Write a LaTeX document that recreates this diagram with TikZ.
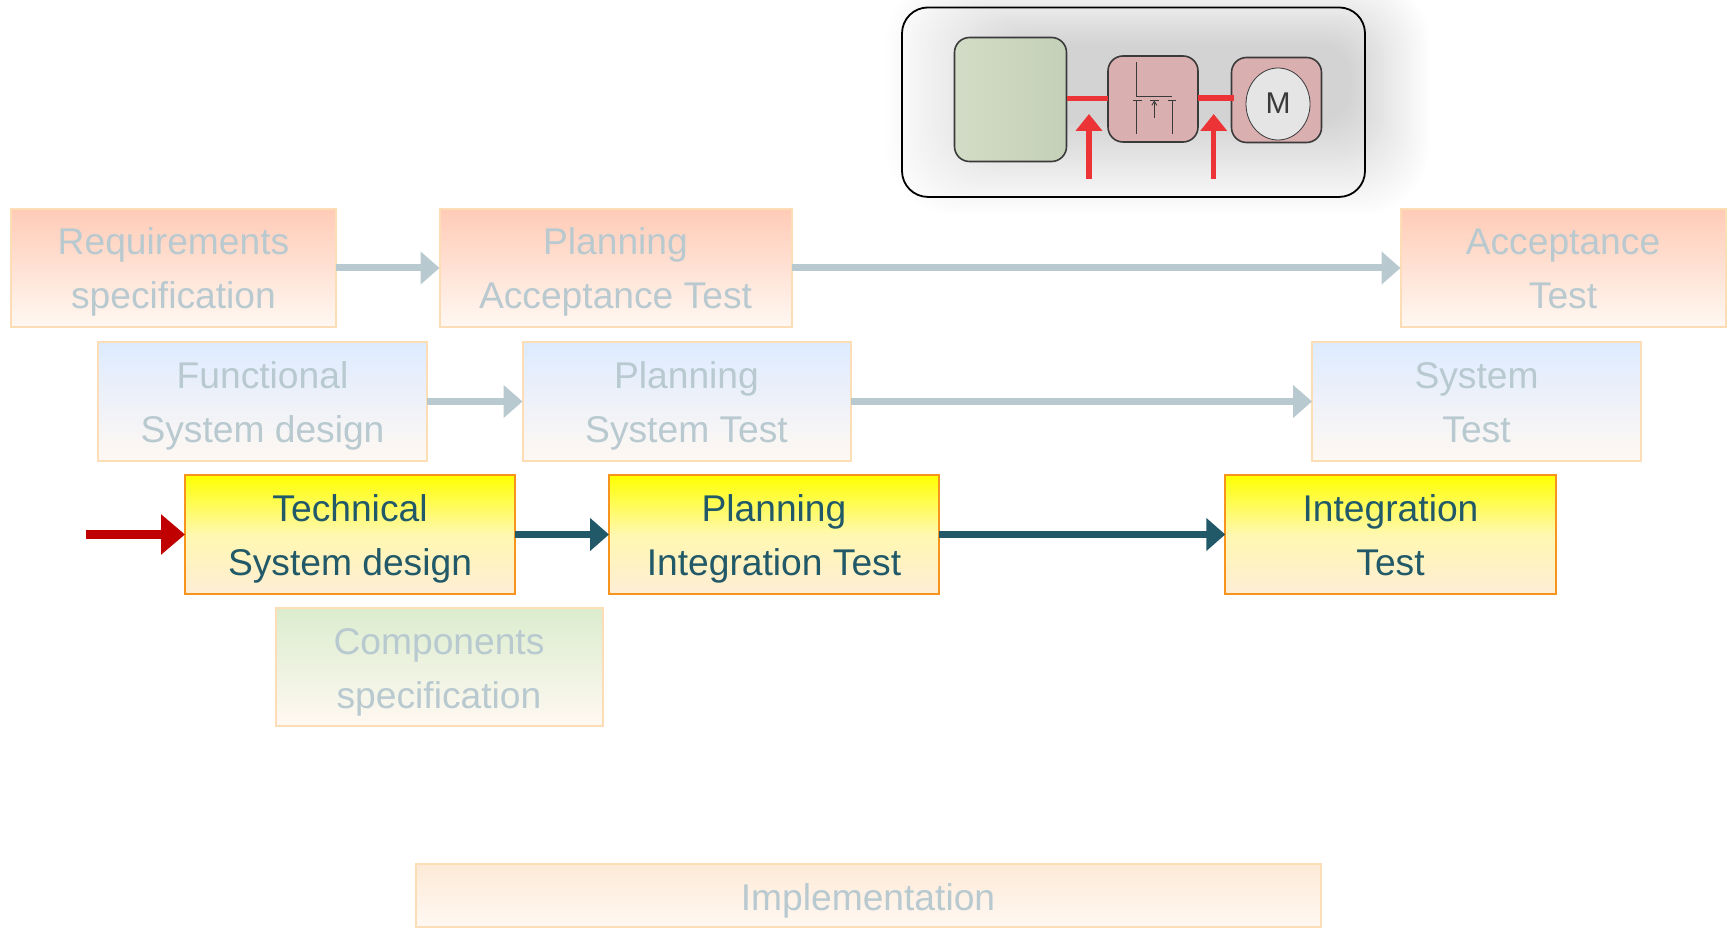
\documentclass[tikz,border=0pt]{standalone}
\usepackage{fontspec}
\setmainfont{Liberation Sans}
\usetikzlibrary{arrows.meta,shapes.geometric}
\definecolor{fadetext}{HTML}{B8C9D0}
\definecolor{darktext}{HTML}{215968}
\definecolor{fadeedge}{HTML}{FDDDB6}
\definecolor{brightedge}{HTML}{F7941D}
\definecolor{panred}{HTML}{EC3335}
\definecolor{inred}{HTML}{C00000}
\definecolor{boxpink}{HTML}{DAAFB0}
\definecolor{boxedge}{HTML}{3A3A3A}
\definecolor{redtop}{HTML}{FFCBB6}
\definecolor{palebottom}{HTML}{FFF8F2}
\definecolor{bluetop}{HTML}{DDEBFF}
\definecolor{greentop}{HTML}{DBEDCE}
\definecolor{impltop}{HTML}{FDEAD7}
\definecolor{implbottom}{HTML}{FFF8F2}
\definecolor{hottop}{HTML}{FFFF00}
\definecolor{hotmid}{HTML}{FFF8B0}
\definecolor{hotbottom}{HTML}{FEEDD6}
\definecolor{srcleft}{HTML}{D3DCC6}
\definecolor{srcright}{HTML}{C4D0B8}
\newcommand\tl{\rule[-8pt]{0pt}{44pt}}
\newcommand\tlone{\rule[-8pt]{0pt}{45pt}}
\tikzset{
  x=1pt,y=-1pt,
  vbox/.style={rectangle,outer sep=0pt,inner sep=0pt,line width=2pt,align=center,
    font=\fontsize{37.2}{54}\selectfont},
  fadebox/.style={vbox,draw=fadeedge,text=fadetext},
  redbox/.style={fadebox,top color=redtop,bottom color=palebottom},
  bluebox/.style={fadebox,top color=bluetop,bottom color=palebottom},
  greenbox/.style={fadebox,top color=greentop,bottom color=palebottom},
  implbox/.style={fadebox,top color=impltop,bottom color=implbottom},
  hotbox/.style={vbox,draw=brightedge,text=darktext,top color=hottop,bottom color=hotbottom,middle color=hotmid},
  fadearrow/.style={draw=fadetext,line width=7pt,-{Triangle[length=19pt,width=32pt]}},
  hotarrow/.style={draw=darktext,line width=7pt,-{Triangle[length=19pt,width=32pt]}},
  inarrow/.style={draw=inred,line width=8.5pt,-{Triangle[length=24pt,width=39pt]}},
  redline/.style={draw=panred,line width=5.5pt},
  uparrow/.style={draw=panred,line width=5.5pt,-{Triangle[length=17pt,width=26pt]}},
  block/.style={rectangle,rounded corners=15pt,draw=boxedge,line width=1.6pt,outer sep=0pt,inner sep=0pt},
  sym/.style={draw=boxedge,line width=0.9pt}
}
\begin{document}
\begin{tikzpicture}
\useasboundingbox (0,0) rectangle (1729,927.5);
% soft glow behind the panel
\begin{scope}
\clip (0,0) rectangle (1729,927.5);
\foreach \i in {0,...,42}{
  \pgfmathsetmacro\lft{885+\i*(1020-885)/42}
  \pgfmathsetmacro\rgt{1430-\i*(1430-1350)/42}
  \pgfmathsetmacro\tp{-25+\i*(45+25)/42}
  \pgfmathsetmacro\bt{215-\i*(215-120)/42}
  \pgfmathsetmacro\rad{70-\i*40/42}
  \pgfmathsetmacro\shadeval{0.4*(\i+1)}
  \fill[black!\shadeval,rounded corners=\rad pt] (\lft,\tp) rectangle (\rgt,\bt);
}
\end{scope}
% panel
\node[rectangle,draw=black,line width=1.8pt,rounded corners=26pt,minimum width=463pt,minimum height=189.5pt,outer sep=0pt] (panel) at (1133.5,102.2) {};
\node[block,left color=srcleft,right color=srcright,minimum width=112pt,minimum height=124pt] (source) at (1010.5,99.5) {};
\node[block,fill=boxpink,minimum width=90pt,minimum height=86pt] (inverter) at (1153,99) {};
\node[block,fill=boxpink,minimum width=90pt,minimum height=85pt] (motorbox) at (1276.5,100) {};
\node[ellipse,draw=boxedge,line width=0.8pt,fill=black!10,minimum width=64pt,minimum height=72pt,inner sep=0pt,outer sep=0pt,font=\fontsize{30}{32}\selectfont,text=boxedge] (motor) at (1278,104) {\raisebox{1pt}{M}};
\draw[redline] (source.east |- 0,98.7) -- (inverter.west |- 0,98.7);
\draw[redline,shorten >=-2pt] (inverter.east |- 0,98) -- (motorbox.west |- 0,98);
\coordinate (up1a) at (1089,179);
\coordinate (up1b) at (1089,114);
\coordinate (up2a) at (1213.7,179);
\coordinate (up2b) at (1213.7,114);
\draw[uparrow] (up1a) -- (up1b);
\draw[uparrow] (up2a) -- (up2b);
% transistor symbol
\draw[sym] (1136.7,62) -- (1136.7,96) -- (1172,96);
\draw[sym] (1133,100.3) -- (1142,100.3) (1136.7,100.3) -- (1136.7,133.7);
\draw[sym] (1150,100.3) -- (1159,100.3);
\draw[sym,-{Straight Barb[length=4pt,width=5pt]}] (1154.3,118) -- (1154.3,100.5);
\draw[sym] (1167.5,100.3) -- (1176,100.3) (1172,100.3) -- (1172,133.7);
% row 1
\node[redbox,minimum width=325pt,minimum height=118pt] (req) at (173.5,268) {\tl Requirements\\\tl specification};
\node[redbox,minimum width=352pt,minimum height=118pt] (planacc) at (615.5,268) {\tl Planning\\\tl Acceptance Test};
\node[redbox,minimum width=325pt,minimum height=118pt] (acc) at (1563,268) {\tl Acceptance\\\tl Test};
% row 2
\node[bluebox,minimum width=328.5pt,minimum height=118.5pt] (func) at (262.5,401.5) {\tl Functional\\\tl System design};
\node[bluebox,minimum width=328pt,minimum height=118.5pt] (plansys) at (686.5,401.5) {\tl Planning\\\tl System Test};
\node[bluebox,minimum width=329pt,minimum height=118.5pt] (sys) at (1476.5,401.5) {\tl System\\\tl Test};
% row 3
\node[hotbox,minimum width=330pt,minimum height=118.5pt] (tech) at (350,534.5) {\tl Technical\\\tl System design};
\node[hotbox,minimum width=330pt,minimum height=118.5pt] (planint) at (774,534.5) {\tl Planning\\\tl Integration Test};
\node[hotbox,minimum width=330.5pt,minimum height=118.5pt] (integ) at (1390.5,534.5) {\tl Integration\\\tl Test};
% row 4
\node[greenbox,minimum width=327pt,minimum height=118pt] (comp) at (439,667) {\tl Components\\\tl specification};
% implementation
\node[implbox,minimum width=905pt,minimum height=63pt] (impl) at (868,895.5) {\tlone Implementation};
% connectors
\draw[fadearrow] (req) -- (planacc);
\draw[fadearrow] (planacc) -- (acc);
\draw[fadearrow] (func) -- (plansys);
\draw[fadearrow] (plansys) -- (sys);
\draw[hotarrow] (tech) -- (planint);
\draw[hotarrow] (planint) -- (integ);
\coordinate (instart) at (86,534.5);
\draw[inarrow] (instart) -- (tech);
\end{tikzpicture}
\end{document}
